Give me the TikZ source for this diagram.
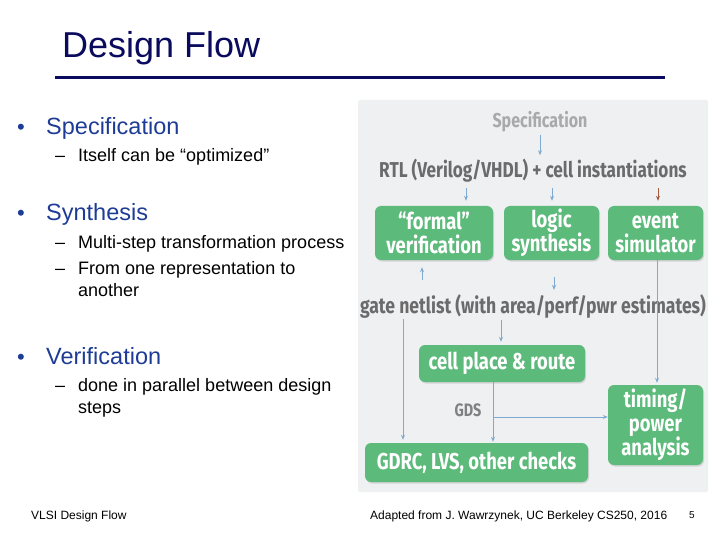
\documentclass[tikz,border=0pt]{standalone}
\usepackage{fontspec}
\setmainfont{Liberation Sans}
\newfontfamily\hand[FakeStretch=0.8]{Fira Sans}
\usetikzlibrary{arrows.meta,shadows}
\definecolor{navy}{HTML}{0A0A5E}
\definecolor{bulblue}{HTML}{1E3C96}
\definecolor{panel}{HTML}{EFF0F2}
\definecolor{boxgreen}{HTML}{5CBA7B}
\definecolor{arr}{HTML}{7EAAD0}
\definecolor{brownarr}{HTML}{A35A3F}
\definecolor{hgray}{HTML}{6B6B6B}
\definecolor{lgray}{HTML}{A9A9A9}
\tikzset{
  bul/.style={anchor=base west, inner sep=0, text=bulblue, font=\fontsize{23.5}{28}\selectfont},
  dot/.style={anchor=base west, inner sep=0, text=bulblue, font=\fontsize{22}{24}\selectfont},
  sub/.style={anchor=base west, inner sep=0, text=black, font=\fontsize{18}{22}\selectfont},
  foot/.style={anchor=base west, inner sep=0, text=black, font=\fontsize{12}{14}\selectfont},
  gbox/.style={fill=boxgreen, rounded corners=6pt, text=white, draw=none,
    font=\hand\bfseries\fontsize{23}{24}\selectfont, align=center, inner sep=0,
    drop shadow={shadow xshift=1pt, shadow yshift=-1.5pt, opacity=0.25}},
  htext/.style={inner sep=0, text=hgray, font=\hand\bfseries\fontsize{21.5}{24}\selectfont},
  arrow/.style={draw=arr, line width=0.9pt, -{Stealth[length=5pt,width=4pt]}},
  brarrow/.style={draw=brownarr, line width=0.9pt, -{Stealth[length=5pt,width=4pt]}}
}
\begin{document}
\begin{tikzpicture}[x=1pt,y=-1pt]
\useasboundingbox (0,0) rectangle (720,540);
\fill[white] (0,0) rectangle (720,540);

% title
\node[anchor=base west, inner sep=0, text=navy, font=\fontsize{36}{40}\selectfont] (title) at (62,58) {Design Flow};
\draw[navy, line width=3pt] (55,78) -- (665,78);

% bullets
\node[dot] (d1) at (17,135) {•};
\node[bul] (b1) at (46,135) {Specification};
\node[sub] (s1d) at (55,162) {–};
\node[sub] (s1) at (78,162) {Itself can be “optimized”};

\node[dot] (d2) at (17,221) {•};
\node[bul] (b2) at (46,221) {Synthesis};
\node[sub] (s2d) at (55,248) {–};
\node[sub] (s2) at (78,248) {Multi-step transformation process};
\node[sub] (s3d) at (55,274) {–};
\node[sub] (s3) at (78,274) {From one representation to};
\node[sub] (s3b) at (78,296) {another};

\node[dot] (d3) at (17,364) {•};
\node[bul] (b3) at (46,364) {Verification};
\node[sub] (s4d) at (55,391) {–};
\node[sub] (s4) at (78,391) {done in parallel between design};
\node[sub] (s4b) at (78,413) {steps};

% footer
\node[foot] (f1) at (31,519) {VLSI Design Flow};
\node[foot] (f2) at (370,519) {Adapted from J. Wawrzynek, UC Berkeley CS250, 2016};
\node[anchor=base west, inner sep=0, font=\fontsize{10}{12}\selectfont] (f3) at (689,518) {5};

% panel
\fill[panel, rounded corners=2pt] (358,100) rectangle (708,492);

% diagram text
\node[htext, text=lgray, font=\hand\bfseries\fontsize{20}{23}\selectfont] (spec) at (540,122) {Specification};
\node[htext] (rtl) at (533,171) {RTL (Verilog/VHDL) + cell instantiations};
\node[htext, font=\hand\bfseries\fontsize{22}{24}\selectfont] (gate) at (533,306) {gate netlist (with area/perf/pwr estimates)};
\node[htext, font=\hand\bfseries\fontsize{18}{20}\selectfont, text=hgray!85] (gds) at (468,410) {GDS};

% boxes
\node[gbox, minimum width=118, minimum height=54] (formal) at (434,233) {“formal”\\verification};
\node[gbox, minimum width=95, minimum height=54] (logic) at (551.5,233) {logic\\synthesis};
\node[gbox, minimum width=95, minimum height=54] (event) at (655.5,233) {event\\simulator};
\node[gbox, minimum width=166, minimum height=37] (cell) at (502,363.5) {cell place \& route};
\node[gbox, minimum width=95, minimum height=80] (timing) at (655.5,425) {timing/\\power\\analysis};
\node[gbox, minimum width=223, minimum height=39] (gdrc) at (476.5,462.5) {GDRC, LVS, other checks};

% arrows
\draw[arrow, shorten <=2pt, shorten >=4pt] (spec.south) -- (spec.south |- rtl.north);
\draw[arrow, shorten <=5pt, shorten >=5pt] ([xshift=32pt]formal.north |- rtl.south) -- ([xshift=32pt]formal.north);
\draw[arrow, shorten <=5pt, shorten >=5pt] ([xshift=0.5pt]logic.north |- rtl.south) -- ([xshift=0.5pt]logic.north);
\draw[brarrow, shorten <=5pt, shorten >=5pt] ([xshift=2.5pt]event.north |- rtl.south) -- ([xshift=2.5pt]event.north);
\draw[arrow, shorten <=14pt, shorten >=7pt] ([xshift=-12pt]formal.south |- gate.north) -- ([xshift=-12pt]formal.south);
\draw[arrow, shorten <=17pt, shorten >=4pt] ([xshift=2.5pt]logic.south) -- ([xshift=2.5pt]logic.south |- gate.north);
\draw[arrow, shorten >=2pt] ([xshift=1.5pt]event.south) -- ([xshift=1.5pt]timing.north);
\draw[arrow, shorten <=1pt, shorten >=3pt] ([xshift=-73.5pt]gdrc.north |- gate.south) -- ([xshift=-73.5pt]gdrc.north);
\draw[arrow, shorten <=2pt, shorten >=3pt] ([xshift=-1pt]cell.north |- gate.south) -- ([xshift=-1pt]cell.north);
\draw[arrow, shorten >=1pt] ([xshift=-9pt]cell.south) -- ([xshift=-9pt]cell.south |- gdrc.north);
\coordinate (br) at (493,417);
\draw[arrow] (br) -- (br -| timing.west);
\end{tikzpicture}
\end{document}
